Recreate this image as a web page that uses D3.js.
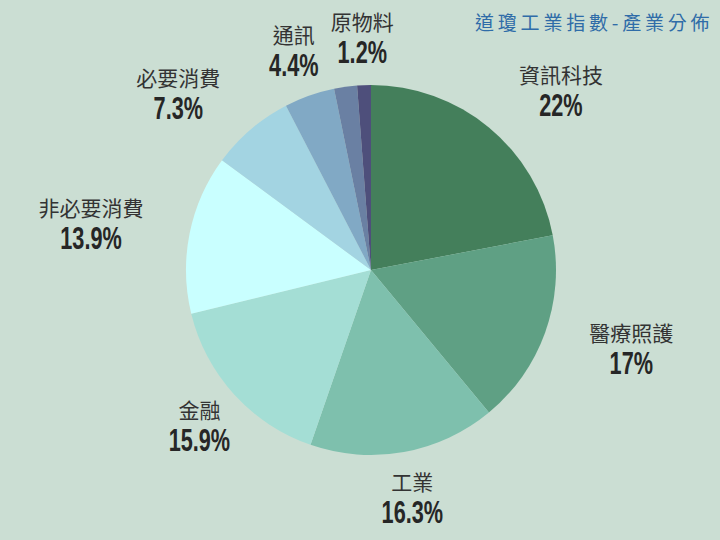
<!DOCTYPE html>
<html>
<head>
<meta charset="utf-8">
<script src="https://cdn.jsdelivr.net/npm/d3@7"></script>
<style>
  html, body { margin: 0; padding: 0; background: #cbded3; }
  svg { display: block; }
</style>
</head>
<body>
<svg id="chart" width="720" height="540"></svg>
<script>
const sectors = ["資訊科技", "醫療照護", "工業", "金融", "非必要消費", "必要消費", "通訊", "能源", "原物料"];
const shares = [22, 17, 16.3, 15.9, 13.9, 7.3, 4.4, 2.0, 1.2];
const shareLabels = ["22%", "17%", "16.3%", "15.9%", "13.9%", "7.3%", "4.4%", "", "1.2%"];
const colors = ["#447f5b", "#5fa084", "#7ec0ad", "#a4ded5", "#c9ffff", "#a3d4e2", "#81a9c5", "#6a80a3", "#4e4f7b"];
const title = "道瓊工業指數-產業分佈";

const width = 720, height = 540;
const cx = 371, cy = 270, radius = 185;
const labelR = 232;

const data = sectors.map((s, i) => ({ sector: s, value: shares[i], label: shareLabels[i] }));

const svg = d3.select("#chart");

svg.append("rect")
  .attr("width", width)
  .attr("height", height)
  .attr("fill", "#cbded3");

// Title
svg.append("text")
  .attr("x", 475)
  .attr("y", 30)
  .attr("font-family", "Noto Sans CJK TC")
  .attr("font-size", 19)
  .attr("letter-spacing", 3.8)
  .attr("fill", "#2f6ca8")
  .text(title);

const color = d3.scaleOrdinal().domain(sectors).range(colors);

const pie = d3.pie()
  .sort(null)
  .value((d) => d.value);

const arc = d3.arc()
  .innerRadius(0)
  .outerRadius(radius);

const g = svg.append("g")
  .attr("transform", `translate(${cx},${cy})`);

const arcs = pie(data);

g.selectAll("path")
  .data(arcs)
  .enter()
  .append("path")
  .attr("d", arc)
  .attr("fill", (d) => color(d.data.sector));

// Labels: name over percentage
const labels = g.selectAll("g.label")
  .data(arcs.filter((d) => d.data.label !== ""))
  .enter()
  .append("g")
  .attr("class", "label");

labels.append("text")
  .attr("class", "name")
  .attr("text-anchor", "middle")
  .attr("y", -8)
  .attr("font-family", "Noto Sans CJK TC")
  .attr("font-size", 21)
  .attr("fill", "#333333")
  .text((d) => d.data.sector);

labels.append("text")
  .attr("class", "pct")
  .attr("text-anchor", "middle")
  .attr("y", 25)
  .attr("transform", "scale(0.7,1)")
  .attr("font-family", "Liberation Sans")
  .attr("font-weight", "bold")
  .attr("font-size", 31)
  .attr("fill", "#262626")
  .text((d) => d.data.label);

labels.attr("transform", function (d) {
  const a = (d.startAngle + d.endAngle) / 2;
  const s = Math.sin(a), c = Math.cos(a);
  let x = labelR * s;
  const y = -labelR * c;
  const box = this.getBBox();
  // push sideways labels out so the text clears the pie
  if (Math.abs(s) > 0.5 && (c > 0 || Math.abs(c) < 0.5)) {
    x += Math.sign(s) * box.width / 2;
  }
  return `translate(${x},${y})`;
});
</script>
</body>
</html>
